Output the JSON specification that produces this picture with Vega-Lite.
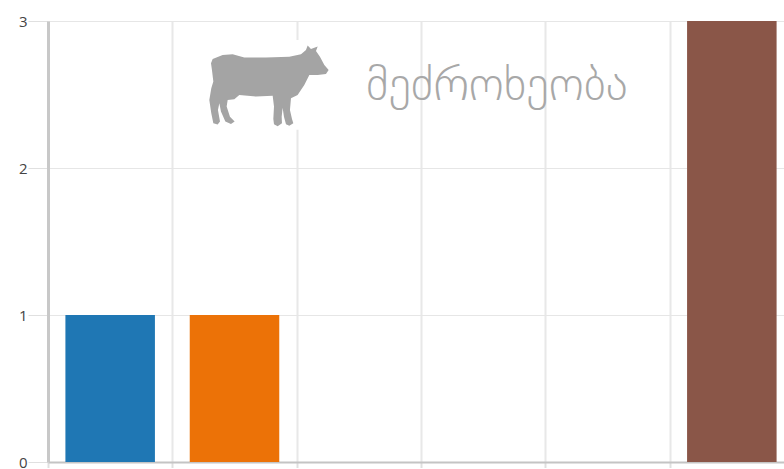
{"$schema":"https://vega.github.io/schema/vega-lite/v6.json","autosize":{"type":"none"},"padding":{"left":48,"top":21,"right":0,"bottom":6},"width":746,"height":441,"background":"white","config":{"view":{"stroke":null}},"resolve":{"scale":{"x":"independent"},"axis":{"x":"independent"}},"layer":[{"data":{"values":[{"category":"A","count":1},{"category":"B","count":1},{"category":"C","count":0},{"category":"D","count":0},{"category":"E","count":0},{"category":"F","count":3}]},"mark":{"type":"bar"},"encoding":{"x":{"field":"category","type":"nominal","scale":{"domain":["A","B","C","D","E","F"],"paddingInner":0.28,"paddingOuter":0.14},"axis":null},"y":{"field":"count","type":"quantitative","scale":{"domain":[0,3],"nice":false},"axis":{"title":null,"values":[0,1,2,3],"format":"d","grid":true,"gridColor":"#e6e6e6","gridWidth":1,"tickColor":"#e0e0e0","tickSize":20,"tickWidth":1,"labelPadding":1,"labelFont":"Open Sans","labelFontSize":15,"labelFontWeight":500,"labelColor":"#444444","domainColor":"#c8c8c8","domainWidth":3}},"color":{"field":"category","type":"nominal","legend":null,"scale":{"domain":["A","B","C","D","E","F"],"range":["#1f77b4","#ec7207","#2ca02c","#d62728","#9467bd","#8a5648"]}}}},{"data":{"values":[{"x0":1.26,"x1":2.03,"y0":2.26,"y1":2.87}]},"mark":{"type":"rect","color":"white"},"encoding":{"x":{"field":"x0","type":"quantitative","scale":{"domain":[0,6],"nice":false,"zero":false},"axis":{"title":null,"labels":false,"values":[0,1,2,3,4,5,6],"grid":true,"gridColor":"#e8e8e8","gridWidth":2,"tickColor":"#e0e0e0","tickSize":7,"tickWidth":2,"domainColor":"#c4c4c4","domainWidth":2}},"x2":{"field":"x1"},"y":{"field":"y0","type":"quantitative"},"y2":{"field":"y1"}}},{"data":{"values":[{"x":1.78,"y":2.565,"name":"cow"}]},"mark":{"type":"point","filled":true,"opacity":1,"color":"#a4a4a4","size":14400,"shape":"M-0.944 -0.433L-0.778 -0.5L-0.611 -0.511L-0.417 -0.456L-0.056 -0.456L0.333 -0.472L0.528 -0.511L0.611 -0.583L0.639 -0.656L0.694 -0.6L0.806 -0.639L0.778 -0.567L0.844 -0.472L0.917 -0.333L0.989 -0.25L0.944 -0.183L0.806 -0.167L0.667 -0.167L0.583 0L0.472 0.167L0.361 0.222L0.344 0.417L0.378 0.567L0.4 0.639L0.333 0.678L0.278 0.656L0.244 0.528L0.222 0.378L0.206 0.528L0.211 0.639L0.139 0.689L0.078 0.656L0.067 0.567L0.078 0.361L0.056 0.178L-0.222 0.194L-0.5 0.167L-0.583 0.239L-0.694 0.25L-0.711 0.361L-0.656 0.528L-0.578 0.611L-0.639 0.65L-0.733 0.611L-0.806 0.444L-0.833 0.306L-0.856 0.417L-0.822 0.611L-0.861 0.661L-0.933 0.639L-0.967 0.472L-1 0.25L-0.967 0.056L-0.933 -0.056L-0.956 -0.25L-0.972 -0.361Z"},"encoding":{"x":{"field":"x","type":"quantitative","scale":{"domain":[0,6],"nice":false,"zero":false},"axis":null},"y":{"field":"y","type":"quantitative"}}},{"data":{"values":[{"x":3.61,"y":2.56,"label":"მეძროხეობა"}]},"mark":{"type":"text","font":"DejaVu Sans","fontWeight":200,"fontSize":47,"color":"#a8a8a8","align":"center","baseline":"middle"},"encoding":{"x":{"field":"x","type":"quantitative","scale":{"domain":[0,6],"nice":false,"zero":false},"axis":null},"y":{"field":"y","type":"quantitative"},"text":{"field":"label"}}}]}
